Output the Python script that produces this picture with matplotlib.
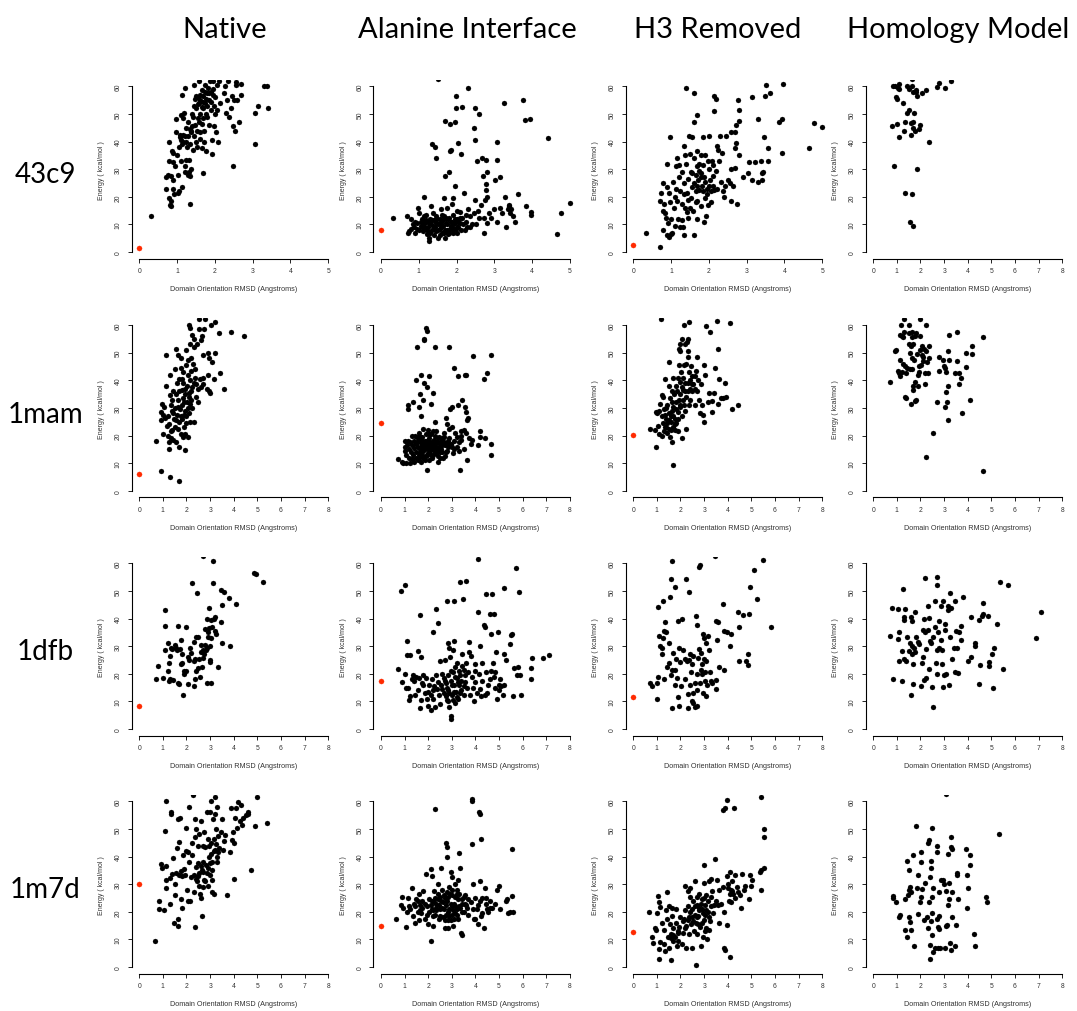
import matplotlib
matplotlib.use("Agg")
import matplotlib.pyplot as plt

# ---------------- data ----------------
col_titles = ["Native", "Alanine Interface", "H3 Removed", "Homology Model"]
row_labels = ["43c9", "1mam", "1dfb", "1m7d"]
x_max = [[5, 5, 5, 8], [8, 8, 8, 8], [8, 8, 8, 8], [8, 8, 8, 8]]
# energy of the crystal structure (drawn in red at RMSD 0); None = not shown
ref_energy = [[1.3, 8.0, 2.5, None], [6.0, 24.6, 20.3, None],
              [8.2, 17.3, 11.5, None], [30.0, 14.8, 12.8, None]]

# ---- 43c9 ----
a1 = [(0.32,13),(0.7,27),(0.7,23),(0.75,28),(0.78,40),(0.78,33),(0.8,19.5),(0.82,17),(0.83,16.5),(0.85,18.5),(0.85,27.5),(0.87,36.5),(0.9,32.5),(0.9,36),(0.9,26),(0.9,23),(0.92,21),(0.95,31),(0.97,43.5),(0.98,48),(1.0,35),(1.02,28),(1.03,21.5),(1.05,22),(1.05,38),(1.07,42.5),(1.08,41.5),(1.1,49.5),(1.1,33),(1.12,57),(1.12,23.5),(1.13,39),(1.15,48.5),(1.17,40),(1.18,50.5),(1.2,59.5),(1.2,31),(1.22,42),(1.22,29),(1.25,40),(1.25,33.5),(1.27,38),(1.28,28),(1.3,42),(1.3,47),(1.32,33.5),(1.33,29),(1.35,17.5),(1.35,39),(1.35,27.5),(1.37,44),(1.38,30),(1.38,43.5),(1.4,50),(1.4,45.5),(1.42,37),(1.43,49),(1.45,60.5),(1.45,53),(1.47,55.5),(1.48,46),(1.5,56.5),(1.5,52),(1.5,40),(1.52,44),(1.52,38),(1.55,56),(1.55,48.5),(1.57,62),(1.58,54),(1.6,50),(1.6,43.5),(1.62,41),(1.62,55),(1.65,58.5),(1.65,46.5),(1.67,37.5),(1.68,28.8),(1.7,56.5),(1.7,52),(1.7,48.5),(1.72,44),(1.72,40),(1.75,60.5),(1.75,54),(1.77,36.5),(1.78,50),(1.8,57.5),(1.8,53),(1.8,49),(1.82,59.5),(1.85,55),(1.85,46),(1.87,62),(1.9,58),(1.9,51.5),(1.92,40.5),(1.92,35.5),(1.95,62),(1.95,57),(1.97,45.5),(1.98,53),(2.0,50),(2.0,56),(2.02,43.5),(2.05,60.5),(2.05,51.5),(2.08,40),(2.1,62),(2.15,54),(2.25,57.5),(2.28,60),(2.3,50.5),(2.33,55),(2.35,62),(2.38,49),(2.42,52),(2.45,56.5),(2.47,31),(2.47,45.5),(2.5,55),(2.53,44),(2.55,60.5),(2.57,61.5),(2.6,55),(2.65,47),(2.68,57),(2.7,61),(3.07,39),(3.07,50.5),(3.15,53),(3.3,60),(3.37,60.2),(3.42,52),
      (1.55,53.5),(1.6,57),(1.65,52.5),(1.75,58),(1.85,57.5),(1.9,54.5),(1.95,59),(1.68,54.5),(1.78,55.5),(1.58,47),(1.45,42),(1.35,44.5),(1.25,45),(1.15,42.5),(1.1,40.5)]
a2 = [(0.32,12.3),(0.7,13),(0.72,7),(0.75,7.5),(0.8,12),(0.8,8.5),(0.85,10),(0.87,9),(0.9,11),(0.9,7),(0.95,10.5),(0.97,16),(1.0,8),(1.02,14),(1.05,9.5),(1.08,12),(1.1,7.5),(1.12,10.5),(1.15,20),(1.15,13),(1.18,8.5),(1.2,11),(1.22,6.5),(1.25,9),(1.27,5),(1.28,4),(1.3,7),(1.3,12),(1.32,16.5),(1.33,10),(1.35,8),(1.35,39),(1.37,14),(1.4,6),(1.4,11.5),(1.42,38),(1.43,9),(1.45,34),(1.45,13),(1.47,7.5),(1.5,10),(1.52,62.5),(1.52,5),(1.55,12),(1.57,8.5),(1.6,15.5),(1.6,11),(1.62,7),(1.65,9.5),(1.67,13),(1.68,19.5),(1.7,47.5),(1.7,27.5),(1.7,5),(1.72,10.5),(1.75,16),(1.75,8),(1.77,12),(1.8,29),(1.8,7),(1.82,46.5),(1.83,36.5),(1.85,36.8),(1.85,11),(1.87,9),(1.88,17.5),(1.9,19.5),(1.9,13.5),(1.92,8),(1.95,47),(1.95,10.5),(1.97,24),(1.98,52),(1.98,56.5),(2.0,15),(2.0,7),(2.02,12),(2.05,39.5),(2.05,9),(2.08,14.5),(2.1,10.5),(2.12,35.5),(2.15,52.5),(2.15,12.5),(2.2,21.5),(2.22,8),(2.25,11),(2.3,59.5),(2.3,15.5),(2.35,13),(2.4,10),(2.45,45),(2.45,14),(2.48,19),(2.5,40.5),(2.5,52),(2.52,10),(2.55,33),(2.57,15),(2.6,50),(2.6,12.5),(2.65,17),(2.68,34),(2.7,27.5),(2.72,7),(2.72,12.5),(2.75,19),(2.78,33.5),(2.78,22.5),(2.78,24.5),(2.8,20),(2.8,10.5),(2.82,29),(2.85,14),(2.9,12.5),(3.0,15.5),(3.02,26),(3.07,40),(3.07,33.5),(3.07,11),(3.15,27),(3.15,16),(3.2,14),(3.25,54),(3.28,20),(3.3,9),(3.35,15.5),(3.38,17),(3.4,16.5),(3.42,14),(3.45,15.5),(3.5,13),(3.55,11),(3.63,21),(3.75,55),(3.8,47.8),(3.85,16.5),(3.95,48.2),(3.97,14.5),(3.97,13.5),(4.43,41.3),(4.65,6.5),(4.77,14),(5.0,17.8),
      (1.5,8),(1.55,6),(1.6,9),(1.65,11.5),(1.7,8),(1.75,10),(1.8,12.5),(1.85,9.5),(1.9,7),(1.95,12),(2.0,9),(2.05,11),(1.45,10.5),(1.35,11.5),(1.25,7.5),(1.15,9.5),(1.05,11),(0.95,8.5),(1.62,13.5),(1.78,6.5),(1.92,10),(2.12,8),(2.25,13.5),(2.35,9),(1.4,8.5),(1.2,13.5),
      (1.58,10),(1.68,7),(1.72,12.5),(1.82,8.5),(1.88,11),(1.98,8.5),(2.08,12.5),(2.18,10),(2.28,9),(1.48,12),(1.38,9.5),(1.28,10.5),(1.18,11.5),(1.08,9)]
a3 = [(0.33,7),(0.7,2),(0.7,18.5),(0.73,21.5),(0.78,25),(0.8,15),(0.8,8),(0.82,17.5),(0.85,14),(0.87,12.5),(0.9,32),(0.9,23.5),(0.9,6),(0.92,10.5),(0.95,5.5),(0.95,21.5),(0.97,41.5),(0.97,18),(1.0,12),(1.0,6.5),(1.03,7),(1.05,25.5),(1.07,16),(1.1,20),(1.1,9.5),(1.12,31),(1.12,23),(1.15,34),(1.15,18.5),(1.18,12),(1.2,27),(1.22,31.5),(1.25,22),(1.25,9),(1.28,29),(1.3,17.5),(1.3,11.5),(1.32,9),(1.33,38.5),(1.35,25),(1.35,6),(1.37,35),(1.38,16),(1.4,59.5),(1.4,32),(1.42,21.5),(1.43,14.5),(1.45,26.5),(1.45,12.5),(1.47,42),(1.5,35.5),(1.5,16),(1.52,29),(1.52,19.5),(1.55,41.5),(1.55,23.5),(1.58,15),(1.6,47),(1.6,6),(1.62,34),(1.62,57.5),(1.65,28),(1.65,22),(1.68,36.5),(1.68,12),(1.7,49.5),(1.7,31),(1.7,18.5),(1.72,26),(1.75,32),(1.75,22.5),(1.78,28.5),(1.8,35),(1.8,16.5),(1.82,24),(1.85,41.5),(1.85,31.5),(1.87,11),(1.88,27),(1.9,35),(1.9,19.5),(1.92,13),(1.95,23),(1.97,33),(1.98,17),(2.0,42),(2.0,30),(2.02,26),(2.05,22),(2.08,33),(2.1,27.5),(2.12,24),(2.15,51),(2.15,56.5),(2.18,29.5),(2.2,55.5),(2.22,23),(2.22,38.5),(2.25,37),(2.28,33),(2.3,42),(2.32,25.5),(2.35,36),(2.37,22),(2.4,20),(2.42,24),(2.45,42),(2.5,26),(2.55,25),(2.58,30),(2.6,43.5),(2.6,18.5),(2.65,24),(2.68,37.5),(2.7,43.5),(2.7,30.5),(2.72,39.5),(2.72,46),(2.75,17.5),(2.78,55),(2.8,47.5),(2.8,51.5),(2.8,35),(2.9,27),(3.05,28.5),(3.07,32.5),(3.15,56),(3.15,26),(3.22,32.5),(3.3,48),(3.3,25.5),(3.38,33),(3.4,26),(3.42,28.5),(3.43,29),(3.45,41.5),(3.5,56.5),(3.52,60.5),(3.57,33),(3.57,37.5),(3.62,57.5),(3.85,47),(3.95,48),(3.95,36),(3.97,61),(4.65,37.5),(4.78,46.8),(5.0,45.2),
      (1.6,25),(1.7,24),(1.8,27),(1.9,25.5),(2.0,24),(1.55,28.5),(1.75,29.5),(1.95,21),(2.05,18),(2.1,31.5),(1.65,18),(1.85,22),(2.15,22.5),(1.45,19),(1.35,21)]
a4 = [(0.78,45.8),(0.85,60),(0.88,31),(0.92,60),(0.95,56),(1.0,55.5),(1.02,46.5),(1.05,59.5),(1.07,61),(1.1,41.5),(1.1,59),(1.28,54),(1.3,44),(1.33,47),(1.35,21.3),(1.42,50.5),(1.45,60),(1.5,51.5),(1.52,59),(1.57,11),(1.6,42.5),(1.6,46.8),(1.62,21),(1.62,62.5),(1.65,60),(1.67,47),(1.68,45),(1.7,9.3),(1.7,57.8),(1.72,50.5),(1.75,43.8),(1.8,58.8),(1.82,58),(1.85,30),(1.85,56.5),(1.95,44.5),(2.0,46),(2.05,57.5),(2.25,58.5),(2.35,40),(2.7,59.8),(2.8,61.2),(3.05,59.3),(3.3,62)]

# ---- 1mam ----
b1 = [(0.7,18),(0.93,7),(0.9,25.5),(0.93,28.5),(0.97,31.5),(1.0,20.5),(1.02,27.5),(1.05,30.5),(1.1,26.5),(1.12,49),(1.15,38),(1.18,23.5),(1.2,20),(1.22,27),(1.25,24),(1.28,17.5),(1.28,15),(1.3,5),(1.3,42),(1.32,34.5),(1.33,21.5),(1.35,19),(1.35,31),(1.38,33),(1.4,29),(1.4,22),(1.42,18.5),(1.45,36),(1.47,26),(1.5,44),(1.5,30),(1.52,23),(1.55,51.5),(1.55,35),(1.57,17.5),(1.6,27.5),(1.6,39),(1.62,49),(1.62,33),(1.65,22.5),(1.68,25),(1.7,3.5),(1.7,40.5),(1.7,15.8),(1.72,29.5),(1.75,44.5),(1.75,20.5),(1.78,48),(1.8,36.5),(1.8,31),(1.82,26),(1.85,39),(1.85,43),(1.87,19.5),(1.9,32),(1.9,27.5),(1.93,14.8),(1.93,35),(1.95,29),(1.95,20.5),(1.97,45.5),(2.0,51),(2.0,24.5),(2.02,38),(2.02,32),(2.05,47.5),(2.05,42),(2.08,19.5),(2.1,60),(2.1,28),(2.12,35.5),(2.13,40),(2.15,59),(2.15,53),(2.17,25),(2.18,48),(2.2,33),(2.2,43.5),(2.22,56.5),(2.25,30),(2.25,37.5),(2.27,46),(2.3,55),(2.3,25),(2.32,52),(2.35,41),(2.37,44),(2.4,34),(2.42,38.5),(2.45,53),(2.47,32),(2.5,37),(2.55,62.3),(2.55,58.5),(2.58,40.5),(2.6,37.5),(2.62,54.5),(2.65,56),(2.68,41),(2.7,49),(2.72,38.5),(2.75,58.5),(2.8,62.3),(2.85,37),(2.9,50),(2.92,42),(2.95,36),(2.97,48),(3.0,35.5),(3.05,60),(3.07,46.5),(3.15,40.5),(3.2,50),(3.2,61),(3.38,57),(3.4,42.5),(3.6,36.8),(3.9,57.3),(4.42,56),
      (1.65,30.5),(1.75,27),(1.85,33.5),(1.95,37),(2.05,30),(2.15,31.5),(1.55,25.5),(1.45,28),(2.0,27),(2.1,34),(1.9,23),(1.8,40.5),(2.2,36),(2.3,39),(1.7,36)]
b2 = [(0.72,11.5),(0.9,10.5),(0.95,10),(1.0,16),(1.0,14.5),(1.02,18),(1.05,10),(1.08,13),(1.1,16.5),(1.13,18),(1.15,31),(1.15,29.5),(1.18,12),(1.2,15),(1.22,17.5),(1.25,10),(1.28,14),(1.3,20),(1.3,11.5),(1.33,16.5),(1.35,32),(1.35,13),(1.4,18),(1.4,10.5),(1.42,15.5),(1.45,20),(1.47,12),(1.5,40),(1.5,17),(1.5,14),(1.52,52),(1.55,11),(1.57,19),(1.6,30.5),(1.6,15.5),(1.62,13),(1.63,21),(1.65,17.5),(1.67,35),(1.68,10.5),(1.7,27),(1.7,42),(1.72,16),(1.75,19.5),(1.75,12.5),(1.77,33),(1.8,22.5),(1.8,14.5),(1.82,39),(1.82,54.5),(1.83,55),(1.85,18),(1.87,11),(1.9,20.5),(1.9,15.5),(1.92,59),(1.95,58),(1.95,37.5),(1.95,13),(1.97,7.5),(2.0,17),(2.0,22),(2.02,11),(2.05,41.5),(2.05,19),(2.07,14.5),(2.1,31.5),(2.1,16.5),(2.12,20.5),(2.15,12),(2.2,35.5),(2.2,18),(2.25,15),(2.27,25),(2.3,52),(2.3,17),(2.33,21.5),(2.35,13.5),(2.4,19),(2.42,10.5),(2.45,16),(2.5,12),(2.55,18),(2.6,14),(2.65,21),(2.7,16.5),(2.75,26.5),(2.78,24),(2.8,14.5),(2.85,18),(2.9,52),(2.9,22.5),(2.92,29.5),(2.95,17),(3.0,30.5),(3.02,23),(3.05,13.5),(3.1,44.5),(3.1,18),(3.15,21),(3.2,16),(3.25,41.5),(3.28,31),(3.3,17.5),(3.35,7.5),(3.38,21.5),(3.4,18.5),(3.45,33),(3.5,22),(3.5,15),(3.55,30.5),(3.55,42),(3.6,42),(3.6,28.5),(3.62,21),(3.65,11),(3.65,25.5),(3.7,26.5),(3.72,19),(3.8,17),(3.85,18.5),(3.9,48.8),(4.1,16.5),(4.2,21.5),(4.2,19.5),(4.35,40.5),(4.4,19),(4.5,42.5),(4.65,49),(4.65,17),(4.65,13),
      (1.55,16),(1.65,14),(1.75,16.5),(1.85,15),(1.95,17.5),(2.05,16),(2.15,15),(2.25,18.5),(2.35,16),(2.45,19.5),(2.55,15),(2.65,17.5),(2.75,14),(2.85,16),(1.7,18.5),(1.9,18),(2.1,13),(2.3,14),(2.5,17),(2.7,12.5),(1.6,12),(1.8,12),(2.0,13.5),(2.2,21.5),(2.4,15),(2.6,19),(3.2,19.5),(3.0,16),(2.9,19),
      (1.58,18),(1.68,15.5),(1.78,17.5),(1.88,16.5),(1.98,15),(2.08,17.5),(2.18,16),(2.28,20),(2.38,17.5),(2.48,14),(2.58,16.5),(2.68,19.5),(2.78,17),(1.62,20),(1.72,13),(1.92,12.5),(2.02,20.5),(2.22,13),(2.42,12.5),(2.62,12),(3.1,15),(3.3,14.5),(3.4,20)]
b3 = [(0.7,22.5),(0.9,22),(0.95,28.5),(0.95,16),(1.0,28),(1.05,23.5),(1.08,20.5),(1.1,29),(1.15,31.5),(1.18,62.3),(1.2,27),(1.2,20),(1.22,34.5),(1.25,24.5),(1.28,34),(1.3,29.5),(1.3,21.5),(1.33,27.5),(1.35,40.5),(1.35,23),(1.38,30),(1.4,26),(1.42,21),(1.45,31),(1.45,24.5),(1.5,28),(1.5,22.5),(1.52,46.5),(1.52,38),(1.55,19.5),(1.55,33.5),(1.58,27),(1.6,25),(1.62,36),(1.63,29),(1.65,17.5),(1.68,23),(1.7,9.5),(1.7,41),(1.7,30.5),(1.72,35),(1.75,26),(1.78,22),(1.8,38),(1.82,32),(1.82,24.5),(1.85,36),(1.88,28.5),(1.9,41),(1.9,21.5),(1.92,51.5),(1.95,33),(1.95,45.5),(1.97,50.5),(1.98,30.5),(2.0,53),(2.0,39.5),(2.0,35),(2.02,43),(2.05,55),(2.05,27),(2.07,19),(2.08,37.5),(2.1,33),(2.12,41),(2.15,60),(2.15,31),(2.15,45.5),(2.18,53),(2.2,36),(2.2,29),(2.22,22.5),(2.25,46),(2.25,34),(2.28,54),(2.3,50.5),(2.3,48.5),(2.32,55),(2.33,39),(2.35,61.2),(2.35,31),(2.37,43),(2.4,37),(2.4,33),(2.45,45),(2.5,41.5),(2.5,36),(2.55,38.5),(2.6,31),(2.62,41.5),(2.65,43.5),(2.7,36),(2.72,48.5),(2.75,40),(2.8,33),(2.82,28),(2.85,38.5),(2.9,31),(2.95,27.5),(2.98,45.5),(3.0,25),(3.05,42),(3.08,59.5),(3.15,32),(3.2,35.5),(3.27,57.3),(3.32,28.5),(3.35,32.5),(3.4,35.5),(3.45,44.5),(3.55,61.5),(3.57,51.2),(3.6,31.5),(3.65,40.5),(3.7,33.5),(3.78,33.5),(3.9,39),(3.92,34),(4.1,60.8),(4.18,29.5),(4.42,31),
      (1.4,23),(1.5,25.5),(1.6,22),(1.7,27),(1.8,29.5),(1.9,26),(2.0,31),(2.1,36.5),(2.3,36),(2.4,40),(2.5,38.5),(1.65,32),(1.75,24),(2.2,39),(2.6,37)]
b4 = [(0.72,39.5),(0.92,50.5),(0.98,51),(1.05,43.5),(1.08,42.5),(1.12,41.5),(1.15,47.5),(1.15,56.5),(1.18,60),(1.2,56),(1.22,43),(1.25,46),(1.28,55.5),(1.3,57.5),(1.32,62.3),(1.35,45),(1.35,34),(1.38,33.5),(1.4,42.5),(1.45,44.5),(1.5,57),(1.5,60),(1.52,53),(1.55,44),(1.55,50),(1.58,52.5),(1.6,31.5),(1.62,57.5),(1.63,55.5),(1.65,48),(1.65,44),(1.68,36.5),(1.7,38),(1.7,53),(1.72,47.5),(1.75,56),(1.75,39.5),(1.78,32.5),(1.8,33),(1.82,57),(1.85,49.5),(1.88,42),(1.9,38),(1.92,45),(1.95,43),(1.97,56),(2.0,62.3),(2.0,51),(2.02,45.5),(2.05,49),(2.08,52.5),(2.1,48.5),(2.12,47),(2.15,51.5),(2.18,42.5),(2.2,38.7),(2.22,12.2),(2.23,60),(2.25,50.5),(2.28,46.5),(2.3,42.5),(2.35,48),(2.38,52.5),(2.52,21),(2.72,32),(2.78,43.5),(2.8,48.5),(2.95,47.5),(3.0,45),(3.05,30.5),(3.05,44.5),(3.07,43),(3.1,35.8),(3.12,32),(3.15,25.5),(3.15,38),(3.15,50.5),(3.2,56.5),(3.22,47.5),(3.45,42.5),(3.55,57.5),(3.55,46.8),(3.62,42.5),(3.65,38.5),(3.7,41),(3.75,28),(3.92,50),(3.92,44.8),(4.1,33),(4.2,49.5),(4.2,52.3),(4.65,7.3),(4.65,55.8)]

# ---- 1dfb ----
c1 = [(0.7,18),(0.8,22.8),(1.0,18.5),(1.08,28.5),(1.08,43.2),(1.1,37.2),(1.2,31),(1.2,21),(1.25,24),(1.28,17.5),(1.3,18),(1.3,26.5),(1.35,29.5),(1.4,29),(1.45,17.8),(1.5,30.5),(1.55,29.5),(1.6,28.5),(1.62,37.2),(1.65,16.5),(1.7,16.2),(1.72,29),(1.75,32.2),(1.78,23.5),(1.8,23.8),(1.82,27),(1.85,12.2),(1.88,20),(1.9,21),(1.98,37),(2.0,21),(2.05,26),(2.08,16.2),(2.12,25),(2.15,29.5),(2.2,27.5),(2.25,52.8),(2.3,15.5),(2.3,24.8),(2.32,31.5),(2.35,18),(2.38,25.5),(2.4,21),(2.42,33.5),(2.45,49.2),(2.48,33.2),(2.5,22),(2.55,25.5),(2.58,18.8),(2.6,27.8),(2.62,30.5),(2.65,22.5),(2.68,28.5),(2.7,25.8),(2.72,62.5),(2.75,27),(2.78,30.5),(2.8,36.2),(2.82,28.8),(2.85,39.7),(2.85,16.8),(2.88,29.5),(2.9,33.5),(2.92,35),(2.95,44),(2.95,36.5),(2.98,25),(3.0,30.2),(3.0,24.2),(3.02,39.5),(3.05,16.8),(3.05,32.8),(3.1,37),(3.12,52.7),(3.12,61),(3.15,40),(3.2,35.5),(3.22,40.5),(3.25,34.5),(3.32,22.3),(3.45,50.5),(3.45,38.8),(3.5,45),(3.52,31.3),(3.6,49.5),(3.82,47.3),(3.85,30),(4.1,45.2),(4.88,56.4),(4.93,56.1),(5.25,53.2)]
c2 = [(0.72,21.8),(0.85,50),(0.9,17),(1.0,52.2),(1.0,19.8),(1.05,15),(1.1,32),(1.1,26.8),(1.15,15),(1.2,10.5),(1.25,26.8),(1.25,12),(1.3,18),(1.35,19.5),(1.4,17.5),(1.45,12.5),(1.5,19),(1.55,28.2),(1.55,14),(1.6,18.5),(1.65,41.2),(1.65,7.8),(1.7,26),(1.7,10.5),(1.75,16.5),(1.8,19.5),(1.85,13),(1.9,18.5),(1.95,11),(2.0,8.5),(2.05,16),(2.1,7),(2.12,12.5),(2.15,18),(2.2,35),(2.2,11),(2.25,15.5),(2.3,8),(2.35,43.5),(2.35,19.5),(2.38,14.5),(2.4,38.3),(2.45,12.5),(2.5,24.5),(2.5,9),(2.55,16),(2.6,20),(2.65,13),(2.7,25),(2.75,16.5),(2.78,46.5),(2.8,10.5),(2.82,19.5),(2.85,31.3),(2.85,14),(2.88,29.5),(2.9,8),(2.92,26),(2.95,17.5),(2.97,4.7),(2.97,3.8),(3.0,12.5),(3.05,20.5),(3.07,28.5),(3.08,32),(3.1,46.5),(3.1,16),(3.12,9.5),(3.15,22.5),(3.18,13.5),(3.2,18.5),(3.22,24),(3.25,11),(3.3,16),(3.35,53.3),(3.35,19.5),(3.4,14),(3.45,27),(3.48,47.2),(3.5,21.5),(3.52,12.5),(3.55,17),(3.6,53.6),(3.62,24),(3.65,15),(3.7,20.5),(3.72,31.5),(3.75,28),(3.78,12.5),(3.8,26.5),(3.85,19),(3.9,15),(3.93,10),(3.97,23.5),(4.0,17),(4.05,13),(4.1,61.5),(4.12,42.3),(4.15,20),(4.2,30),(4.22,11.8),(4.3,24),(4.3,17.5),(4.35,37.5),(4.4,37),(4.45,49),(4.45,20.5),(4.5,13),(4.55,16),(4.6,41.6),(4.65,34.5),(4.68,21),(4.72,49),(4.75,24),(4.8,41.6),(4.82,15),(4.85,20.5),(4.88,28),(4.9,11),(4.95,35.2),(5.0,16),(5.05,18),(5.1,15.5),(5.15,12.5),(5.2,51),(5.22,27),(5.22,16),(5.3,25),(5.45,30.8),(5.5,34),(5.55,34.5),(5.6,12),(5.65,22),(5.72,58.2),(5.78,19.5),(5.82,22.5),(5.85,49.8),(5.9,19.5),(5.92,12.3),(6.35,18),(6.35,22),(6.4,25.8),(6.88,25.6),(7.1,26.8),
      (2.6,14.5),(2.7,17.5),(2.8,15),(2.9,13),(3.0,16),(3.1,13.5),(3.2,11.5),(3.3,21),(3.4,17.5),(3.5,15.5),(2.75,12),(2.95,21),(3.15,19),(3.35,13),(3.55,19.5),(2.65,18.5),(2.85,10),(3.05,10.5),(3.25,17),(3.45,23),(4.0,21),(4.2,14.5),(4.4,12.5),(4.6,18),(4.8,19),(5.0,14),(2.4,17),(2.2,14),(2.0,13.5),(1.8,16)]
c3 = [(0.7,16.5),(0.8,15.5),(1.0,16.8),(1.02,11),(1.05,19),(1.05,44.2),(1.1,33.8),(1.15,30),(1.2,29.5),(1.22,27),(1.25,46.3),(1.25,33),(1.3,18.3),(1.32,35.5),(1.35,38.8),(1.38,35),(1.42,22.5),(1.5,31),(1.5,24),(1.55,47.8),(1.58,54.3),(1.6,19.5),(1.62,21.5),(1.65,7.5),(1.65,60.8),(1.7,27.5),(1.75,51.6),(1.75,16),(1.78,21.5),(1.8,25.5),(1.85,18.5),(1.88,39.3),(1.9,11.6),(1.92,8.2),(1.95,29.5),(2.0,24.2),(2.02,15.7),(2.08,40),(2.1,28.8),(2.18,18.3),(2.2,25.5),(2.25,54.3),(2.28,24.5),(2.3,12.8),(2.32,7.5),(2.35,49.8),(2.38,25),(2.4,16),(2.42,27),(2.45,20.5),(2.48,23.5),(2.5,10),(2.52,9.5),(2.55,13),(2.55,26.5),(2.6,16.5),(2.62,8),(2.65,40.8),(2.68,8.2),(2.7,14),(2.72,37.8),(2.72,20),(2.75,25.8),(2.78,58.6),(2.8,29),(2.82,59.4),(2.83,16.5),(2.85,21.5),(2.88,27.5),(2.9,20),(2.92,23.5),(2.95,13),(2.97,34.5),(3.0,33),(3.0,25.5),(3.02,20.5),(3.05,17.5),(3.07,12),(3.08,31),(3.1,24.5),(3.12,16),(3.15,33.8),(3.2,28.5),(3.25,20.5),(3.3,17.5),(3.35,16.5),(3.45,62.5),(3.5,14.6),(3.5,17.8),(3.52,39.2),(3.55,32.3),(3.6,38.8),(3.62,22.3),(3.78,45.3),(3.85,35.5),(3.85,21.5),(3.95,35),(4.1,30),(4.12,34.5),(4.45,42.2),(4.47,36.8),(4.48,24.5),(4.65,41.3),(4.78,24.8),(4.85,27.3),(4.88,23.1),(4.9,41.8),(4.95,51.6),(5.12,57.5),(5.25,47),(5.5,61.2),(5.85,37)]
c4 = [(0.72,33.8),(0.8,44),(0.85,18.3),(1.05,43.3),(1.05,32.5),(1.08,35.3),(1.1,24.5),(1.2,28.2),(1.22,17.3),(1.25,50.7),(1.3,40.5),(1.3,39.5),(1.32,25.3),(1.35,43.6),(1.38,24.8),(1.42,33.2),(1.5,28.2),(1.55,31),(1.58,40.5),(1.6,12.3),(1.62,39),(1.65,27),(1.65,30),(1.68,23.5),(1.7,16.2),(1.72,29.5),(1.75,42.5),(1.78,27.8),(1.8,33.5),(1.9,31.5),(1.92,30.7),(2.02,15.5),(2.05,24),(2.1,35.8),(2.12,26),(2.15,39.7),(2.15,17.6),(2.18,35),(2.2,54.7),(2.22,18.5),(2.25,29),(2.3,36),(2.32,44.7),(2.35,21.8),(2.38,40.2),(2.4,32),(2.45,31),(2.5,15.2),(2.55,7.9),(2.55,33.5),(2.6,37),(2.62,46.3),(2.65,23.8),(2.68,52.2),(2.7,55),(2.7,20),(2.72,28.5),(2.75,35),(2.78,39),(2.8,29.5),(2.85,32.2),(2.88,44.5),(2.9,23.5),(2.92,28.8),(2.95,46.5),(2.95,15.3),(3.0,19.5),(3.02,38),(3.05,35.8),(3.1,20),(3.15,43),(3.18,44.7),(3.2,15.8),(3.25,49.2),(3.25,33.3),(3.3,43.8),(3.35,25.5),(3.4,29.3),(3.45,46.5),(3.48,20.7),(3.5,35.5),(3.55,29.3),(3.6,20.3),(3.65,35),(3.7,32.3),(3.72,37.3),(3.78,47.8),(4.0,24.8),(4.12,40.5),(4.15,26),(4.3,31),(4.3,30),(4.48,39.5),(4.48,16.3),(4.52,23.3),(4.62,40.8),(4.65,41.5),(4.65,45.7),(4.85,41),(4.92,24.3),(4.92,22.7),(5.02,27),(5.08,14.8),(5.12,29.5),(5.25,38.2),(5.35,53.2),(5.48,21.8),(5.72,52.2),(6.88,32.8),(7.1,42.3)]

# ---- 1m7d ----
d1 = [(0.65,9.5),(0.82,24),(0.85,21),(0.9,37.3),(0.95,36),(1.05,20.7),(1.1,49.3),(1.12,60.3),(1.12,31.5),(1.15,28.5),(1.15,36.5),(1.3,22.8),(1.32,32.3),(1.35,56.3),(1.35,55.5),(1.4,33.7),(1.45,39.5),(1.48,16),(1.5,30),(1.52,26),(1.55,34),(1.6,43),(1.62,17.5),(1.65,15),(1.65,53.7),(1.68,45.2),(1.7,33.5),(1.72,54),(1.75,24.7),(1.78,34.7),(1.8,33),(1.82,21.3),(1.85,40.5),(1.9,35.5),(1.95,33.5),(2.0,50.2),(2.0,42),(2.02,28),(2.05,41.5),(2.08,23.8),(2.1,38.2),(2.12,58),(2.15,24),(2.2,32.5),(2.22,45),(2.25,40.5),(2.28,62.3),(2.3,27.2),(2.32,33.5),(2.35,14.5),(2.35,53.5),(2.38,47),(2.4,36.2),(2.42,50),(2.45,31.3),(2.48,37.8),(2.5,44),(2.52,48),(2.55,34),(2.58,26.5),(2.6,25),(2.62,52.8),(2.65,18.5),(2.65,35),(2.68,29),(2.7,44),(2.72,38),(2.75,49),(2.75,31.5),(2.8,43.5),(2.82,37),(2.85,56),(2.88,34),(2.9,29.5),(2.92,46.5),(2.95,40),(2.98,33.5),(3.0,56),(3.02,60),(3.05,45),(3.07,38),(3.08,31.5),(3.1,27),(3.12,53.5),(3.15,42),(3.18,26.5),(3.2,55.5),(3.22,61.5),(3.25,50),(3.25,44.5),(3.28,38),(3.3,58),(3.32,41.5),(3.35,47.5),(3.38,43),(3.45,49),(3.5,53.5),(3.55,42.5),(3.58,45.8),(3.62,47.7),(3.7,26),(3.85,41.5),(3.9,57.5),(3.92,46),(3.95,49),(4.0,32),(4.02,45),(4.05,54),(4.1,57.5),(4.15,50.5),(4.2,59.8),(4.25,53),(4.3,58.5),(4.35,51.5),(4.4,54),(4.5,55),(4.6,56),(4.62,55.5),(4.75,35.2),(4.92,51),(4.98,61.5),(5.4,52.3),
      (2.5,33),(2.6,36.5),(2.7,34.5),(2.8,31),(2.9,36),(3.0,37.5),(3.1,35),(3.2,42.5),(3.3,40),(2.4,32),(2.55,29.5),(3.05,41),(3.15,46.5),(2.95,44)]
d2 = [(0.65,17.5),(0.85,22.5),(0.9,25.5),(0.95,21.5),(1.05,14.5),(1.1,20),(1.15,25),(1.2,22),(1.3,28.5),(1.35,18.5),(1.4,23),(1.45,16),(1.5,24.5),(1.55,20),(1.6,26.5),(1.65,22.5),(1.7,19.5),(1.75,24),(1.8,27.5),(1.85,17.5),(1.9,33.8),(1.95,22),(2.0,15.5),(2.05,20),(2.1,35.5),(2.12,9.5),(2.15,24),(2.18,33),(2.2,15),(2.25,27.5),(2.3,57.2),(2.3,19),(2.35,23),(2.4,30),(2.45,17.5),(2.5,25.5),(2.55,36),(2.6,21.5),(2.65,26),(2.7,14.3),(2.75,45),(2.75,19),(2.78,43.3),(2.78,39.8),(2.8,24),(2.85,14.2),(2.88,29),(2.9,21),(2.95,34.5),(2.95,17),(3.0,32.5),(3.02,26),(3.05,15),(3.1,23),(3.12,30),(3.15,19.5),(3.2,26.5),(3.25,31.5),(3.28,17.5),(3.3,41.2),(3.3,22),(3.35,35.8),(3.4,12.5),(3.42,11.5),(3.45,24.5),(3.5,20),(3.55,26),(3.6,22.5),(3.7,19),(3.8,23.5),(3.85,60),(3.87,61),(3.85,44.6),(3.9,30),(3.95,17.5),(4.0,25),(4.05,21),(4.1,15.5),(4.15,56),(4.18,55.3),(4.2,31.2),(4.22,18.5),(4.25,46.2),(4.3,25),(4.35,14.2),(4.4,28.7),(4.45,23),(4.5,21),(4.55,20),(4.6,24),(4.7,21.5),(4.85,23),(4.9,28),(5.0,29.5),(5.05,21),(5.3,24),(5.35,24.5),(5.4,19.5),(5.45,20),(5.55,25.7),(5.55,42.8),(5.6,20),
      (1.25,21),(1.45,22),(1.55,24),(1.65,20.5),(1.75,21.5),(1.85,23),(1.95,19),(2.05,24.5),(2.15,21),(2.25,23.5),(2.35,20.5),(2.45,22.5),(2.55,24),(2.65,21),(2.75,22.5),(2.85,25.5),(2.95,23),(3.05,20.5),(3.15,22),(3.25,24.5),(3.35,21.5),(3.45,20),(3.55,23),(3.65,21.5),(2.5,18.5),(2.7,17),(2.9,18.5),(3.1,17.5),(2.4,26.5),(2.6,28),(2.8,27),(3.0,28),(3.2,21),(2.3,25),(2.2,18.5),(1.6,17),(4.1,22.5),(4.3,19.5),(4.0,17.5),(4.2,24),(3.9,21),
      (2.42,24.5),(2.52,21),(2.62,23.5),(2.72,25),(2.82,20),(2.92,26.5),(3.02,22),(3.12,25.5),(3.22,19),(3.32,26.5),(3.42,23),(2.32,21.5),(2.22,20.5),(2.12,22.5),(2.62,18),(2.82,17),(3.02,19),(3.22,28),(3.5,25.5),(3.7,24.5),(4.45,25),(4.6,21.5)]
d3 = [(0.65,19.8),(0.8,11),(0.82,8.7),(0.9,14),(0.95,13.5),(1.0,19.5),(1.05,25.8),(1.08,6.5),(1.1,3),(1.1,23.5),(1.12,21.8),(1.15,9),(1.2,16),(1.3,13.5),(1.32,8.5),(1.35,5.8),(1.4,20.5),(1.42,27.2),(1.45,17.5),(1.48,11),(1.5,7),(1.52,22),(1.55,15.5),(1.58,12),(1.6,2.7),(1.62,21.5),(1.65,18.5),(1.68,9.5),(1.7,14),(1.75,11),(1.8,21),(1.82,16),(1.85,7.5),(1.88,12.5),(1.9,9.5),(1.95,14.5),(2.0,18),(2.05,8.5),(2.1,12.5),(2.15,17.5),(2.18,20.5),(2.2,29.5),(2.25,7),(2.25,15),(2.3,27.5),(2.32,22),(2.35,12),(2.38,18),(2.4,25.5),(2.42,28.5),(2.45,15.5),(2.48,6.8),(2.5,21),(2.52,16.5),(2.55,24),(2.58,13),(2.6,19),(2.62,31),(2.65,0.7),(2.65,16),(2.68,22.5),(2.7,25.5),(2.72,12),(2.75,18.5),(2.78,20.5),(2.8,26.5),(2.82,14.5),(2.85,23),(2.88,7.5),(2.9,16),(2.92,21),(2.95,11),(2.98,37),(3.0,30.5),(3.0,25),(3.02,19),(3.05,22.5),(3.08,14),(3.1,26),(3.12,10),(3.15,20),(3.18,24),(3.2,31),(3.22,13.5),(3.25,16.5),(3.28,31.8),(3.3,22),(3.32,27.5),(3.38,19.5),(3.45,39),(3.5,24),(3.55,31.5),(3.58,22.5),(3.62,28),(3.65,15.8),(3.7,23),(3.8,29),(3.85,20),(3.85,6.8),(3.88,6.3),(3.9,57.5),(3.82,57),(3.95,15.3),(3.95,33),(3.95,60.5),(4.0,30),(4.05,24),(4.08,3.7),(4.1,34.3),(4.12,28),(4.15,23.5),(4.2,31),(4.22,26.5),(4.28,57.7),(4.3,33.5),(4.32,25),(4.38,29),(4.42,27),(4.5,26),(4.55,21.5),(4.6,33.7),(4.68,28),(4.75,29.5),(4.92,24.8),(4.95,33.5),(5.0,29.5),(5.05,31.5),(5.35,34.5),(5.4,28),(5.4,35),(5.4,61.5),(5.55,50),(5.55,47),(5.55,36),
      (2.6,22),(2.7,18),(2.8,21.5),(2.9,24.5),(3.0,17),(3.1,20.5),(3.2,18),(2.5,18),(2.4,20),(2.3,17),(2.2,14),(2.1,16.5),(3.3,25.5),(3.4,22.5),(2.75,15.5),(2.95,19.5),(3.05,13),(1.6,10.5),(1.7,11.5),(1.9,13),(4.1,26.5),(4.2,27.5),(4.0,28.5)]
d4 = [(0.82,25.6),(0.85,25),(0.95,23.5),(1.1,18),(1.12,19),(1.35,13.5),(1.35,24.8),(1.42,11),(1.45,38.5),(1.48,26),(1.5,28),(1.5,35),(1.52,18),(1.55,16.3),(1.55,29),(1.6,13.5),(1.6,27),(1.7,40.5),(1.72,7.5),(1.82,51),(1.85,28.8),(1.88,19.3),(1.9,33.5),(2.0,23.5),(2.02,38),(2.02,41.5),(2.02,25.5),(2.05,28.3),(2.15,17),(2.2,30.6),(2.28,18),(2.3,45),(2.3,14),(2.35,23.5),(2.38,46),(2.4,3),(2.4,8),(2.42,32.5),(2.45,35.8),(2.45,38.5),(2.45,16.5),(2.47,25.5),(2.48,11.5),(2.5,50.3),(2.5,19.5),(2.52,28.5),(2.55,5.3),(2.62,6.8),(2.7,43.8),(2.7,41.5),(2.72,17.5),(2.75,14.5),(2.75,6.8),(2.78,27),(2.8,18.5),(2.8,13.8),(2.82,6.8),(2.85,31.5),(2.95,31.5),(3.0,30),(3.05,6.8),(3.07,27.5),(3.08,15),(3.1,62.5),(3.12,15.2),(3.15,22.5),(3.18,41),(3.2,30.3),(3.22,24.5),(3.25,8.8),(3.28,6.2),(3.3,47),(3.3,43.6),(3.32,27),(3.35,42.7),(3.35,18),(3.45,7.8),(3.5,15.3),(3.55,33.5),(3.55,34),(3.6,24.8),(3.92,42.7),(3.95,33.5),(3.95,21.5),(4.02,28.5),(4.08,36.8),(4.08,40.5),(4.28,11.8),(4.3,7.8),(4.78,25.2),(4.8,23.7),(5.32,48)]

panels = [[a1, a2, a3, a4], [b1, b2, b3, b4], [c1, c2, c3, c4], [d1, d2, d3, d4]]

# ---------------- layout ----------------
W, H = 1077, 1012
fig = plt.figure(figsize=(W / 100, H / 100), dpi=100)
col_left = [131.7, 373.4, 625.7, 865.7]
row_top = [80.7, 319.4, 557.7, 795.7]
aw, ah = 204, 179

title_x = [225, 467, 718, 958]
row_label_y = [175, 415, 652, 890]

txt = '#333333'
for r in range(4):
    for c in range(4):
        ax = fig.add_axes([col_left[c] / W, 1 - (row_top[r] + ah) / H, aw / W, ah / H])
        xm = x_max[r][c]
        pts = panels[r][c]
        ax.plot([p[0] for p in pts], [p[1] for p in pts], 'o', ms=3.6,
                mfc='black', mec='black', mew=0.2, clip_on=True)
        if ref_energy[r][c] is not None:
            ax.plot([0], [ref_energy[r][c]], 'o', ms=3.7, mfc='#ff2a00', mec='#ff2a00', mew=0.2)
        ax.set_xlim(-0.04 * xm, 1.04 * xm)
        ax.set_ylim(-2.4, 62.4)
        for s in ['top', 'right']:
            ax.spines[s].set_visible(False)
        ax.spines['left'].set_bounds(0, 60)
        ax.spines['bottom'].set_bounds(0, xm)
        for s in ['left', 'bottom']:
            ax.spines[s].set_linewidth(0.8)
        ax.set_xticks(range(0, xm + 1))
        ax.set_yticks(range(0, 61, 10))
        ax.tick_params(axis='both', direction='out', length=2.9, width=0.6,
                       labelsize=4.9, labelcolor=txt)
        ax.tick_params(axis='x', pad=3.4)
        ax.tick_params(axis='y', pad=4.2, labelrotation=90)
        for lab in ax.get_yticklabels():
            lab.set_va('center')
            lab.set_fontfamily('Liberation Sans')
        for lab in ax.get_xticklabels():
            lab.set_fontfamily('Liberation Sans')
        ax.text(0.5, -30.3 / ah, "Domain Orientation RMSD (Angstroms)", transform=ax.transAxes,
                ha='center', va='center', fontsize=5.2, color=txt, family='Liberation Sans')
        ax.text(-30.0 / aw, (ah - 90) / ah, "Energy ( kcal/mol )", transform=ax.transAxes,
                ha='center', va='center', rotation=90, fontsize=5.0, color=txt,
                family='Liberation Sans')

for c in range(4):
    fig.text(title_x[c] / W, 1 - 30 / H, col_titles[c], ha='center', va='center',
             fontsize=21, family='Lato', color='black')
for r in range(4):
    fig.text(45 / W, 1 - row_label_y[r] / H, row_labels[r], ha='center', va='center',
             fontsize=20, family='Lato', color='black')

fig.savefig('out.png', dpi=100)
